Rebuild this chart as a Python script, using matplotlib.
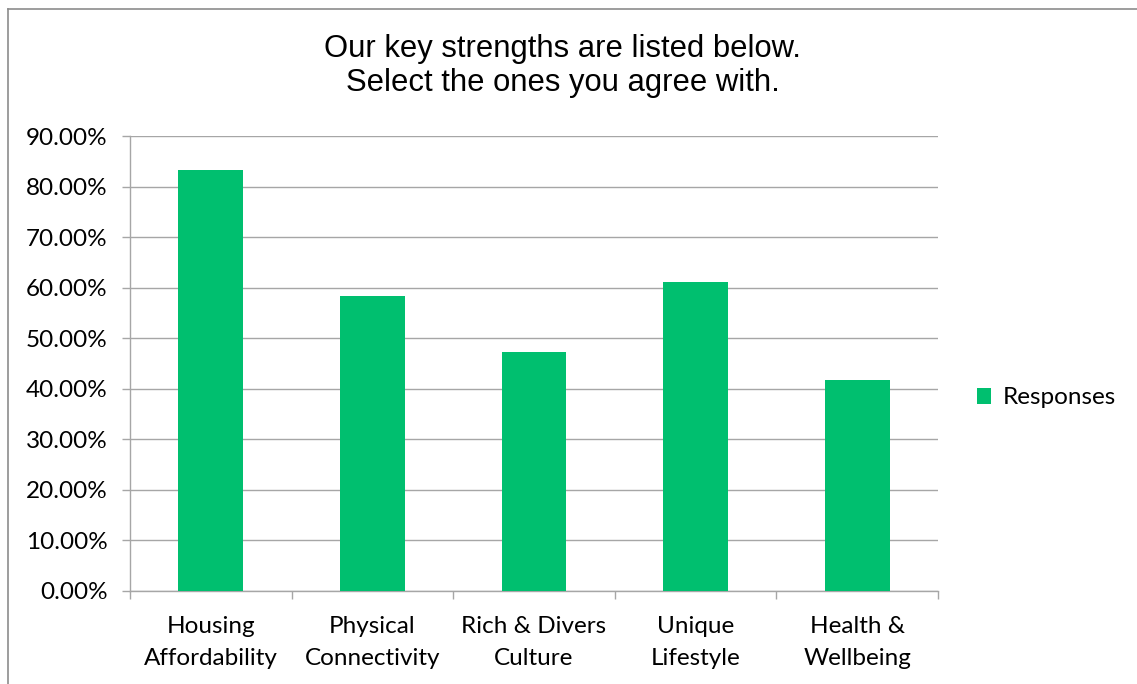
import numpy as np
import matplotlib.pyplot as plt
from matplotlib.lines import Line2D
from matplotlib.patches import Patch
from matplotlib.ticker import FuncFormatter, MultipleLocator

categories = ["Housing\nAffordability", "Physical\nConnectivity", "Rich & Divers\nCulture",
              "Unique\nLifestyle", "Health &\nWellbeing"]
responses = [83.33, 58.33, 47.22, 61.11, 41.67]
title = "Our key strengths are listed below.\nSelect the ones you agree with."

W, H = 1137, 684
bar_color = "#00BF6F"
grid_color = "#A6A6A6"
label_font = "Lato"
label_size = 17.5

fig = plt.figure(figsize=(W / 100, H / 100), dpi=100)
ax = fig.add_axes([130 / W, 1 - 590.5 / H, 808 / W, (590.5 - 136.3) / H])

x = np.arange(len(categories))
ax.bar(x, responses, width=0.4, color=bar_color, zorder=3)

ax.set_xlim(-0.5, len(categories) - 0.5)
ax.set_ylim(0, 90)
ax.yaxis.set_major_locator(MultipleLocator(10))
ax.yaxis.set_major_formatter(FuncFormatter(lambda v, p: f"{v:.2f}%"))
ax.grid(axis="y", color=grid_color, linewidth=1, zorder=0)

ax.set_xticks(x)
ax.set_xticklabels(categories)
ax.set_xticks(np.arange(len(categories) + 1) - 0.5, minor=True)
ax.tick_params(axis="x", which="major", length=0, pad=18.5)
ax.tick_params(axis="x", which="minor", length=6, color=grid_color, width=1)
ax.tick_params(axis="y", length=6, color=grid_color, width=1, pad=10)
for lbl in ax.get_yticklabels():
    lbl.set_fontfamily(label_font)
    lbl.set_fontsize(label_size)
for lbl in ax.get_xticklabels():
    lbl.set_fontfamily(label_font)
    lbl.set_fontsize(label_size)
    lbl.set_linespacing(1.65)

for side in ("top", "right"):
    ax.spines[side].set_visible(False)
for side in ("left", "bottom"):
    ax.spines[side].set_color(grid_color)
    ax.spines[side].set_linewidth(1)

fig.text(563 / W, 1 - 66 / H, title, ha="center", va="center",
         fontfamily="Liberation Sans", fontsize=22.3, linespacing=1.2)

handle = Patch(facecolor=bar_color)
fig.legend([handle], ["Responses"], loc="center left", bbox_to_anchor=(955 / W, 1 - 398 / H),
           frameon=False, handlelength=0.6, handleheight=0.6, handletextpad=0.45,
           prop={"family": label_font, "size": label_size})

# chart frame (top and left edges)
fig.add_artist(Line2D([8 / W, 1], [1 - 9 / H, 1 - 9 / H], color="#8C8C8C", linewidth=1.2))
fig.add_artist(Line2D([8 / W, 8 / W], [0, 1 - 9 / H], color="#8C8C8C", linewidth=1.2))

fig.savefig("out.png", dpi=100, facecolor="white")
